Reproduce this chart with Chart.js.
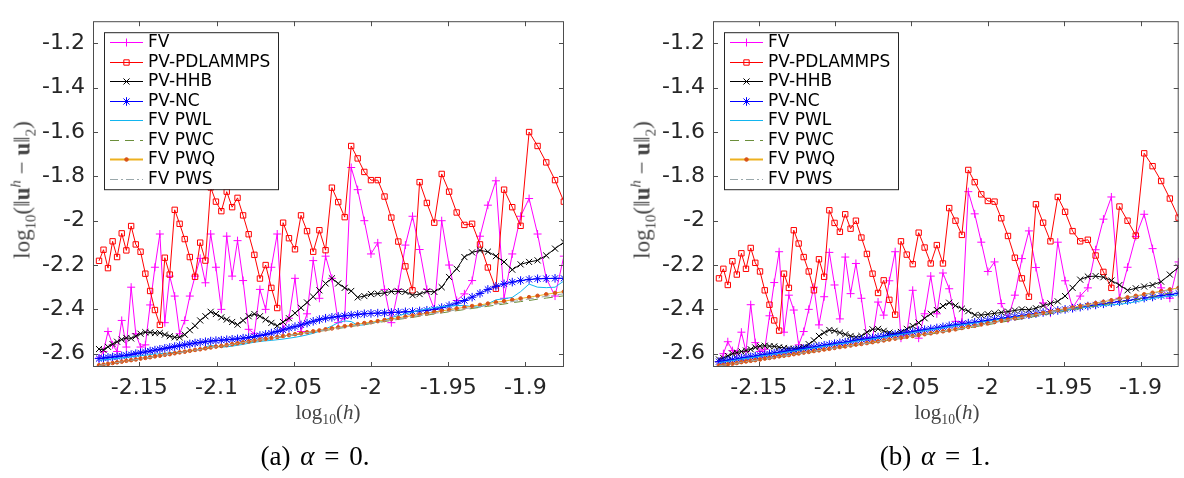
<!DOCTYPE html>
<html>
<head>
<meta charset="utf-8">
<script src="https://cdn.jsdelivr.net/npm/chart.js@4.4.1/dist/chart.umd.min.js"></script>
<style>
  html, body { margin: 0; padding: 0; background: #fff; width: 1184px; height: 478px; overflow: hidden; position: relative; }
  canvas { position: absolute; top: 0; }
  .lbl { position: absolute; font-family: "Liberation Serif", "DejaVu Serif", serif; color: #444; white-space: nowrap; transform: translate(-50%, -50%); line-height: 1; }
  .ytitle { font-size: 23px; transform: translate(-50%, -50%) rotate(-90deg); }
  .xtitle { font-size: 21px; }
  .cap { font-size: 27px; color: #000; word-spacing: 3px; }
  sub, sup { font-size: 65%; line-height: 0; }
</style>
</head>
<body>
<canvas id="chartA" width="600" height="400" style="left:0"></canvas>
<canvas id="chartB" width="564" height="400" style="left:620px"></canvas>

<div class="lbl ytitle" style="left:22px;top:190px">log<sub>10</sub>(‖<b>u</b><sup><i>h</i></sup> − <b>u</b>‖<sub>2</sub>)</div>
<div class="lbl ytitle" style="left:642px;top:190px">log<sub>10</sub>(‖<b>u</b><sup><i>h</i></sup> − <b>u</b>‖<sub>2</sub>)</div>
<div class="lbl xtitle" style="left:328px;top:412px">log<sub>10</sub>(<i>h</i>)</div>
<div class="lbl xtitle" style="left:947px;top:412px">log<sub>10</sub>(<i>h</i>)</div>
<div class="lbl cap" style="left:315px;top:456px">(a) <i>α</i> = 0.</div>
<div class="lbl cap" style="left:935px;top:456px">(b) <i>α</i> = 1.</div>

<script>
// log10(h), one entry per mesh
const logH = [
  -2.1761, -2.1732, -2.1703, -2.1673, -2.1644, -2.1614, -2.1584, -2.1553, -2.1523, -2.1492,
  -2.1461, -2.1430, -2.1399, -2.1367, -2.1335, -2.1303, -2.1271, -2.1239, -2.1206, -2.1173,
  -2.1139, -2.1106, -2.1072, -2.1038, -2.1004, -2.0969, -2.0934, -2.0899, -2.0864, -2.0828,
  -2.0792, -2.0755, -2.0719, -2.0682, -2.0645, -2.0607, -2.0569, -2.0531, -2.0492, -2.0453,
  -2.0414, -2.0374, -2.0334, -2.0294, -2.0253, -2.0212, -2.0170, -2.0128, -2.0086, -2.0043,
  -2.0000, -1.9956, -1.9912, -1.9868, -1.9823, -1.9777, -1.9731, -1.9685, -1.9638, -1.9590,
  -1.9542, -1.9494, -1.9445, -1.9395, -1.9345, -1.9294, -1.9243, -1.9191, -1.9138, -1.9085,
  -1.9031, -1.8976, -1.8921, -1.8865, -1.8808, -1.8751
];
const xTicks = [-2.15, -2.1, -2.05, -2, -1.95, -1.9];
const yTicks = [-2.6, -2.4, -2.2, -2, -1.8, -1.6, -1.4, -1.2];
const seriesNames = ["FV", "PV-PDLAMMPS", "PV-HHB", "PV-NC", "FV PWL", "FV PWC", "FV PWQ", "FV PWS"];

// panel (a), alpha = 0
const fvA = [
  -2.62, -2.59, -2.50, -2.56, -2.59, -2.45, -2.57, -2.30, -2.51, -2.57,
  -2.56, -2.38, -2.21, -2.06, -2.46, -2.25, -2.34, -2.51, -2.45, -2.34,
  -2.25, -2.17, -2.28, -2.06, -2.21, -2.40, -2.07, -2.25, -2.09, -2.27,
  -2.49, -2.51, -2.31, -2.40, -2.21, -2.06, -2.49, -2.44, -2.26, -2.50,
  -2.42, -2.18, -2.35, -2.16, -2.26, -2.46, -2.44, -1.76, -1.86, -2.00,
  -2.15, -2.10, -2.31, -2.46, -2.31, -2.11, -1.98, -2.13, -2.31, -2.40,
  -2.00, -2.20, -2.36, -2.33, -2.27, -2.07, -1.93, -1.82, -2.35, -2.15,
  -1.98, -1.90, -2.06, -2.26, -2.34, -2.16
];
const pdA = [
  -2.181, -2.131, -2.214, -2.093, -2.164, -2.057, -2.134, -2.024, -2.107, -2.140,
  -2.239, -2.317, -2.403, -2.470, -2.167, -2.243, -1.951, -2.014, -2.083, -2.164,
  -2.253, -2.099, -2.180, -1.850, -1.914, -1.957, -1.869, -1.939, -1.897, -1.976,
  -2.061, -2.154, -2.261, -2.200, -2.303, -2.394, -2.009, -2.079, -2.129, -1.976,
  -2.047, -2.140, -2.043, -2.133, -1.851, -1.916, -1.984, -1.663, -1.719, -1.780,
  -1.817, -1.817, -1.891, -1.986, -2.094, -2.206, -2.314, -1.826, -1.920, -2.009,
  -1.789, -1.869, -1.963, -2.019, -2.014, -2.107, -2.211, -2.307, -1.860, -1.939,
  -2.023, -1.600, -1.663, -1.737, -1.817, -1.914
];
const hhbA = [
  -2.579, -2.583, -2.569, -2.557, -2.546, -2.536, -2.529, -2.531, -2.521, -2.510,
  -2.503, -2.504, -2.507, -2.506, -2.514, -2.521, -2.526, -2.526, -2.514, -2.494,
  -2.474, -2.450, -2.431, -2.411, -2.421, -2.436, -2.446, -2.457, -2.469, -2.450,
  -2.431, -2.421, -2.431, -2.446, -2.461, -2.474, -2.457, -2.440, -2.417, -2.393,
  -2.369, -2.343, -2.314, -2.283, -2.260, -2.283, -2.303, -2.317, -2.346, -2.340,
  -2.331, -2.329, -2.326, -2.319, -2.319, -2.321, -2.336, -2.331, -2.319, -2.321,
  -2.300, -2.254, -2.217, -2.164, -2.143, -2.134, -2.140, -2.160, -2.186, -2.221,
  -2.197, -2.186, -2.179, -2.157, -2.126, -2.097
];
const ncA = [
  -2.622, -2.620, -2.617, -2.615, -2.613, -2.610, -2.607, -2.604, -2.600, -2.596,
  -2.592, -2.588, -2.584, -2.580, -2.576, -2.572, -2.568, -2.564, -2.560, -2.556,
  -2.552, -2.549, -2.546, -2.543, -2.541, -2.539, -2.537, -2.535, -2.533, -2.530,
  -2.527, -2.523, -2.518, -2.513, -2.507, -2.500, -2.493, -2.485, -2.478, -2.470,
  -2.462, -2.454, -2.446, -2.440, -2.436, -2.432, -2.429, -2.426, -2.423, -2.420,
  -2.418, -2.417, -2.416, -2.414, -2.413, -2.411, -2.410, -2.407, -2.404, -2.400,
  -2.392, -2.383, -2.372, -2.360, -2.345, -2.328, -2.310, -2.296, -2.285, -2.277,
  -2.270, -2.265, -2.262, -2.261, -2.260, -2.260
];
const pwlA = [
  -2.630, -2.628, -2.626, -2.623, -2.621, -2.619, -2.617, -2.614, -2.612, -2.609,
  -2.607, -2.604, -2.602, -2.600, -2.598, -2.596, -2.594, -2.592, -2.590, -2.587,
  -2.584, -2.581, -2.570, -2.562, -2.566, -2.570, -2.569, -2.566, -2.562, -2.558,
  -2.553, -2.548, -2.545, -2.542, -2.540, -2.537, -2.534, -2.530, -2.526, -2.521,
  -2.515, -2.508, -2.499, -2.488, -2.475, -2.460, -2.452, -2.455, -2.472, -2.470,
  -2.462, -2.456, -2.447, -2.437, -2.428, -2.420, -2.412, -2.405, -2.398, -2.392,
  -2.388, -2.385, -2.383, -2.382, -2.388, -2.390, -2.375, -2.357, -2.352, -2.346,
  -2.320, -2.286, -2.300, -2.302, -2.300, -2.272
];
const pwcA = [
  -2.654, -2.651, -2.648, -2.644, -2.641, -2.638, -2.634, -2.631, -2.628, -2.624,
  -2.621, -2.618, -2.614, -2.611, -2.607, -2.604, -2.600, -2.596, -2.593, -2.589,
  -2.585, -2.582, -2.578, -2.574, -2.570, -2.567, -2.563, -2.559, -2.555, -2.551,
  -2.548, -2.544, -2.540, -2.536, -2.532, -2.528, -2.524, -2.519, -2.515, -2.511,
  -2.507, -2.503, -2.499, -2.495, -2.491, -2.486, -2.482, -2.477, -2.473, -2.468,
  -2.464, -2.459, -2.455, -2.450, -2.445, -2.441, -2.436, -2.431, -2.426, -2.421,
  -2.416, -2.411, -2.406, -2.401, -2.396, -2.391, -2.386, -2.381, -2.376, -2.370,
  -2.365, -2.360, -2.354, -2.349, -2.344, -2.339
];
const pwqA = [
  -2.652, -2.649, -2.646, -2.642, -2.639, -2.636, -2.632, -2.629, -2.626, -2.622,
  -2.619, -2.616, -2.612, -2.609, -2.605, -2.602, -2.598, -2.594, -2.591, -2.587,
  -2.583, -2.580, -2.576, -2.572, -2.568, -2.565, -2.561, -2.557, -2.553, -2.549,
  -2.545, -2.541, -2.537, -2.533, -2.529, -2.525, -2.520, -2.516, -2.512, -2.508,
  -2.503, -2.499, -2.495, -2.490, -2.486, -2.481, -2.476, -2.472, -2.467, -2.462,
  -2.458, -2.453, -2.448, -2.443, -2.438, -2.433, -2.428, -2.423, -2.418, -2.412,
  -2.407, -2.402, -2.396, -2.391, -2.385, -2.380, -2.374, -2.368, -2.363, -2.357,
  -2.351, -2.345, -2.339, -2.332, -2.326, -2.320
];
const pwsA = [
  -2.653, -2.650, -2.647, -2.643, -2.640, -2.637, -2.633, -2.630, -2.627, -2.623,
  -2.620, -2.617, -2.613, -2.610, -2.606, -2.603, -2.599, -2.595, -2.592, -2.588,
  -2.584, -2.581, -2.577, -2.573, -2.569, -2.566, -2.562, -2.558, -2.554, -2.550,
  -2.546, -2.542, -2.538, -2.534, -2.530, -2.526, -2.522, -2.518, -2.514, -2.510,
  -2.505, -2.501, -2.497, -2.493, -2.489, -2.484, -2.480, -2.475, -2.471, -2.466,
  -2.462, -2.457, -2.452, -2.447, -2.443, -2.438, -2.433, -2.428, -2.423, -2.418,
  -2.413, -2.408, -2.402, -2.397, -2.392, -2.387, -2.381, -2.376, -2.370, -2.365,
  -2.359, -2.353, -2.347, -2.341, -2.335, -2.330
];

// panel (b), alpha = 1
const fvB = [
  -2.636, -2.600, -2.546, -2.586, -2.600, -2.503, -2.590, -2.379, -2.550, -2.590,
  -2.580, -2.429, -2.279, -2.140, -2.503, -2.336, -2.403, -2.560, -2.500, -2.400,
  -2.300, -2.470, -2.343, -2.143, -2.290, -2.443, -2.164, -2.329, -2.193, -2.350,
  -2.529, -2.530, -2.367, -2.426, -2.271, -2.140, -2.530, -2.510, -2.314, -2.530,
  -2.420, -2.250, -2.420, -2.236, -2.307, -2.454, -2.457, -1.869, -1.969, -2.097,
  -2.229, -2.186, -2.374, -2.443, -2.336, -2.171, -2.046, -2.211, -2.371, -2.417,
  -2.097, -2.271, -2.393, -2.340, -2.303, -2.131, -1.993, -1.893, -2.350, -2.210,
  -2.071, -1.971, -2.126, -2.303, -2.350, -2.186
];
const pdB = [
  -2.260, -2.217, -2.290, -2.183, -2.243, -2.147, -2.217, -2.123, -2.190, -2.229,
  -2.314, -2.379, -2.450, -2.496, -2.239, -2.303, -2.043, -2.103, -2.164, -2.229,
  -2.314, -2.174, -2.253, -1.953, -2.010, -2.050, -1.971, -2.036, -2.000, -2.076,
  -2.150, -2.239, -2.326, -2.269, -2.357, -2.424, -2.093, -2.153, -2.196, -2.054,
  -2.121, -2.193, -2.110, -2.193, -1.943, -2.000, -2.064, -1.771, -1.826, -1.881,
  -1.911, -1.914, -1.989, -2.069, -2.167, -2.260, -2.343, -1.926, -2.009, -2.093,
  -1.893, -1.960, -2.047, -2.093, -2.086, -2.157, -2.231, -2.303, -1.936, -2.000,
  -2.067, -1.696, -1.754, -1.821, -1.900, -1.986
];
const hhbB = [
  -2.626, -2.620, -2.610, -2.600, -2.595, -2.590, -2.586, -2.580, -2.572, -2.566,
  -2.564, -2.566, -2.567, -2.571, -2.574, -2.577, -2.579, -2.576, -2.570, -2.557,
  -2.540, -2.520, -2.505, -2.493, -2.497, -2.505, -2.513, -2.520, -2.526, -2.520,
  -2.503, -2.490, -2.488, -2.497, -2.505, -2.511, -2.502, -2.488, -2.475, -2.460,
  -2.440, -2.420, -2.403, -2.385, -2.370, -2.383, -2.397, -2.408, -2.425, -2.426,
  -2.422, -2.418, -2.414, -2.410, -2.405, -2.400, -2.402, -2.395, -2.383, -2.373,
  -2.364, -2.340, -2.303, -2.266, -2.252, -2.250, -2.255, -2.270, -2.290, -2.314,
  -2.305, -2.297, -2.290, -2.275, -2.243, -2.210
];
const ncB = [
  -2.636, -2.633, -2.630, -2.627, -2.624, -2.620, -2.617, -2.614, -2.611, -2.607,
  -2.604, -2.601, -2.597, -2.594, -2.591, -2.587, -2.584, -2.580, -2.577, -2.573,
  -2.570, -2.566, -2.562, -2.559, -2.555, -2.551, -2.548, -2.544, -2.540, -2.536,
  -2.533, -2.529, -2.525, -2.521, -2.517, -2.513, -2.509, -2.505, -2.501, -2.496,
  -2.492, -2.488, -2.484, -2.479, -2.474, -2.470, -2.466, -2.462, -2.458, -2.454,
  -2.450, -2.445, -2.441, -2.437, -2.432, -2.428, -2.424, -2.419, -2.414, -2.410,
  -2.405, -2.400, -2.395, -2.390, -2.385, -2.380, -2.375, -2.370, -2.365, -2.360,
  -2.355, -2.349, -2.344, -2.338, -2.333, -2.327
];
const pwlB = [
  -2.640, -2.637, -2.634, -2.631, -2.628, -2.624, -2.621, -2.618, -2.615, -2.611,
  -2.608, -2.605, -2.601, -2.598, -2.595, -2.591, -2.588, -2.584, -2.581, -2.577,
  -2.574, -2.570, -2.566, -2.563, -2.559, -2.555, -2.552, -2.548, -2.544, -2.540,
  -2.537, -2.533, -2.529, -2.525, -2.521, -2.517, -2.513, -2.509, -2.505, -2.500,
  -2.496, -2.492, -2.488, -2.483, -2.478, -2.474, -2.470, -2.466, -2.462, -2.458,
  -2.454, -2.449, -2.445, -2.441, -2.436, -2.432, -2.428, -2.423, -2.418, -2.414,
  -2.409, -2.404, -2.399, -2.394, -2.389, -2.385, -2.382, -2.380, -2.377, -2.372,
  -2.366, -2.358, -2.350, -2.345, -2.340, -2.334
];
const pwcB = [
  -2.656, -2.653, -2.650, -2.647, -2.644, -2.641, -2.638, -2.635, -2.632, -2.628,
  -2.625, -2.622, -2.618, -2.615, -2.612, -2.608, -2.605, -2.601, -2.598, -2.594,
  -2.591, -2.587, -2.584, -2.580, -2.577, -2.573, -2.569, -2.566, -2.562, -2.558,
  -2.554, -2.551, -2.547, -2.543, -2.539, -2.535, -2.531, -2.527, -2.523, -2.519,
  -2.515, -2.511, -2.507, -2.502, -2.498, -2.494, -2.489, -2.484, -2.479, -2.474,
  -2.469, -2.464, -2.458, -2.453, -2.448, -2.442, -2.437, -2.431, -2.425, -2.420,
  -2.414, -2.408, -2.402, -2.396, -2.391, -2.385, -2.379, -2.373, -2.367, -2.362,
  -2.356, -2.349, -2.342, -2.334, -2.326, -2.318
];
const pwqB = [
  -2.654, -2.651, -2.648, -2.645, -2.642, -2.638, -2.635, -2.632, -2.629, -2.626,
  -2.622, -2.619, -2.616, -2.612, -2.609, -2.606, -2.602, -2.599, -2.595, -2.592,
  -2.588, -2.585, -2.581, -2.578, -2.574, -2.570, -2.567, -2.563, -2.559, -2.556,
  -2.552, -2.548, -2.544, -2.540, -2.536, -2.532, -2.528, -2.524, -2.520, -2.516,
  -2.512, -2.508, -2.503, -2.499, -2.495, -2.490, -2.484, -2.479, -2.474, -2.468,
  -2.463, -2.457, -2.451, -2.446, -2.440, -2.434, -2.428, -2.422, -2.416, -2.410,
  -2.404, -2.398, -2.392, -2.385, -2.379, -2.372, -2.366, -2.359, -2.352, -2.346,
  -2.339, -2.332, -2.325, -2.318, -2.310, -2.303
];
const pwsB = [
  -2.655, -2.652, -2.649, -2.646, -2.643, -2.639, -2.636, -2.633, -2.630, -2.627,
  -2.623, -2.620, -2.617, -2.613, -2.610, -2.607, -2.603, -2.600, -2.596, -2.593,
  -2.589, -2.586, -2.582, -2.579, -2.575, -2.571, -2.568, -2.564, -2.560, -2.557,
  -2.553, -2.549, -2.545, -2.541, -2.537, -2.533, -2.529, -2.525, -2.521, -2.517,
  -2.513, -2.509, -2.505, -2.500, -2.497, -2.492, -2.486, -2.481, -2.476, -2.470,
  -2.465, -2.459, -2.453, -2.448, -2.442, -2.436, -2.430, -2.424, -2.418, -2.412,
  -2.406, -2.400, -2.394, -2.387, -2.381, -2.374, -2.368, -2.361, -2.354, -2.348,
  -2.341, -2.334, -2.327, -2.320, -2.312, -2.305
];

// line / marker look of each series, same order as seriesNames
const styles = [
  { borderColor: "#ff00ff", pointStyle: "cross", pointRadius: 4 },
  { borderColor: "#ff0000", pointStyle: "rect", pointRadius: 3.8 },
  { borderColor: "#000000", pointStyle: "crossRot", pointRadius: 4.3 },
  { borderColor: "#0000ff", pointStyle: "star", pointRadius: 4.3 },
  { borderColor: "#12b5ef", pointRadius: 0 },
  { borderColor: "#6b8e3a", borderDash: [9, 6], pointRadius: 0 },
  { borderColor: "#edb120", pointStyle: "circle", pointRadius: 1.8, pointBackgroundColor: "#d95319", pointBorderColor: "#d95319" },
  { borderColor: "#9aa8ab", borderDash: [8, 3, 2, 3], pointRadius: 0 },
];

const fmt = v => String(+v.toFixed(2));
const tickFont = { family: "DejaVu Sans", size: 22 };

// matlab-like box with inward ticks on all four sides
const frame = {
  id: "frame",
  afterDatasetsDraw(chart) {
    const { ctx, chartArea: a, scales } = chart;
    ctx.save();
    ctx.strokeStyle = "#4d4d4d";
    ctx.lineWidth = 1;
    ctx.strokeRect(a.left + 0.5, a.top + 0.5, a.right - a.left - 1, a.bottom - a.top - 1);
    ctx.beginPath();
    xTicks.forEach(v => {
      const px = Math.round(scales.x.getPixelForValue(v)) + 0.5;
      ctx.moveTo(px, a.bottom); ctx.lineTo(px, a.bottom - 5);
      ctx.moveTo(px, a.top); ctx.lineTo(px, a.top + 5);
    });
    yTicks.forEach(v => {
      const py = Math.round(scales.y.getPixelForValue(v)) + 0.5;
      ctx.moveTo(a.left, py); ctx.lineTo(a.left + 5, py);
      ctx.moveTo(a.right, py); ctx.lineTo(a.right - 5, py);
    });
    ctx.stroke();
    ctx.restore();
  }
};

// legend box in the upper left of the plot
const legendBox = {
  id: "legendBox",
  afterDraw(chart) {
    const { ctx, chartArea: a } = chart;
    const left = a.left + 11, top = a.top + 11;
    ctx.save();
    ctx.fillStyle = "#fff";
    ctx.fillRect(left, top, 174, 157);
    ctx.strokeStyle = "#262626";
    ctx.lineWidth = 1;
    ctx.strokeRect(left + 0.5, top + 0.5, 174, 157);
    chart.data.datasets.forEach((ds, i) => {
      const y = Math.round(top + 10 + i * 19.5) + 0.5;
      ctx.save();
      ctx.strokeStyle = ds.borderColor;
      ctx.lineWidth = i === 6 ? 2 : 1;
      ctx.setLineDash(ds.borderDash || []);
      ctx.beginPath();
      ctx.moveTo(left + 6, y);
      ctx.lineTo(left + 39, y);
      ctx.stroke();
      ctx.setLineDash([]);
      if (ds.pointRadius > 0) {
        ctx.lineWidth = 1;
        ctx.strokeStyle = ds.pointBorderColor || ds.borderColor;
        ctx.fillStyle = ds.pointBackgroundColor || "rgba(0,0,0,0)";
        Chart.helpers.drawPoint(ctx, { pointStyle: ds.pointStyle, radius: ds.pointRadius, rotation: 0, borderWidth: 1 }, left + 22.5, y);
      }
      ctx.restore();
      ctx.fillStyle = "#000";
      ctx.font = "17px 'DejaVu Sans'";
      ctx.textBaseline = "middle";
      ctx.fillText(ds.label, left + 44, y);
    });
    ctx.restore();
  }
};

const makeChart = (id, seriesList, padRight) => new Chart(document.getElementById(id), {
  type: "line",
  data: {
    datasets: seriesList.map((ys, i) => Object.assign({
      label: seriesNames[i],
      data: logH.map((x, j) => ({ x: x, y: ys[j] })),
      borderWidth: 1,
      backgroundColor: "rgba(0,0,0,0)",
      tension: 0,
      order: 7 - i,
    }, styles[i])),
  },
  options: {
    responsive: false,
    animation: false,
    events: [],
    layout: { padding: { left: 0, top: 4, right: padRight, bottom: 0 } },
    plugins: { legend: { display: false }, tooltip: { enabled: false } },
    scales: {
      x: {
        type: "linear", min: -2.18, max: -1.875,
        afterBuildTicks: s => { s.ticks = xTicks.map(v => ({ value: v })); },
        afterFit: s => { s.height = 33; },
        grid: { display: false, drawTicks: false },
        border: { display: false },
        ticks: { padding: 8, color: "#262626", font: tickFont, maxRotation: 0, autoSkip: false, callback: v => fmt(v) },
      },
      y: {
        type: "linear", min: -2.66, max: -1.1,
        afterBuildTicks: s => { s.ticks = yTicks.map(v => ({ value: v })); },
        afterFit: s => { s.width = 93; },
        grid: { display: false, drawTicks: false },
        border: { display: false },
        ticks: { padding: 8, color: "#262626", font: tickFont, autoSkip: false, callback: v => fmt(v) },
      },
    },
  },
  plugins: [frame, legendBox],
});

makeChart("chartA", [fvA, pdA, hhbA, ncA, pwlA, pwcA, pwqA, pwsA], 36);
makeChart("chartB", [fvB, pdB, hhbB, ncB, pwlB, pwcB, pwqB, pwsB], 1);
</script>
</body>
</html>
